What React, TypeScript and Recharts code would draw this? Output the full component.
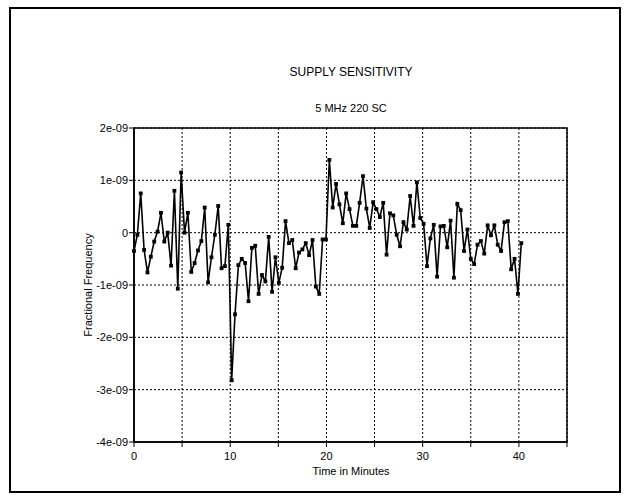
import React from 'react';
import { LineChart, Line, XAxis, YAxis, CartesianGrid, ReferenceArea, Customized } from 'recharts';

// Time in minutes for each sample
const timeMin = [
  0, 0.35, 0.7, 1.05, 1.4, 1.75, 2.1, 2.45, 2.8, 3.15, 3.5, 3.85, 4.2, 4.55, 4.9, 5.25, 5.6, 5.95, 6.3, 6.65,
  7, 7.35, 7.7, 8.05, 8.4, 8.75, 9.1, 9.45, 9.8, 10.15, 10.5, 10.85, 11.2, 11.55, 11.9, 12.25, 12.6, 12.95, 13.3, 13.65,
  14, 14.35, 14.7, 15.05, 15.4, 15.75, 16.1, 16.45, 16.8, 17.15, 17.5, 17.85, 18.2, 18.55, 18.9, 19.25, 19.6, 19.95, 20.3, 20.65,
  21, 21.35, 21.7, 22.05, 22.4, 22.75, 23.1, 23.45, 23.8, 24.15, 24.5, 24.85, 25.2, 25.55, 25.9, 26.25, 26.6, 26.95, 27.3, 27.65,
  28, 28.35, 28.7, 29.05, 29.4, 29.75, 30.1, 30.45, 30.8, 31.15, 31.5, 31.85, 32.2, 32.55, 32.9, 33.25, 33.6, 33.95, 34.3, 34.65,
  35, 35.35, 35.7, 36.05, 36.4, 36.75, 37.1, 37.45, 37.8, 38.15, 38.5, 38.85, 39.2, 39.55, 39.9, 40.25,
];

// Fractional frequency in units of 1e-09
const fracFreqE9 = [
  -0.35, -0.04, 0.75, -0.33, -0.76, -0.46, -0.17, 0.02, 0.38, -0.17, 0.0, -0.63, 0.8, -1.07, 1.15, 0.0, 0.38, -0.75, -0.58, -0.34,
  -0.16, 0.48, -0.95, -0.47, -0.04, 0.51, -0.68, -0.64, 0.15, -2.82, -1.56, -0.62, -0.5, -0.58, -1.31, -0.29, -0.25, -1.17, -0.81, -0.93,
  -0.08, -1.13, -0.47, -0.96, -0.67, 0.22, -0.2, -0.14, -0.68, -0.38, -0.32, -0.2, -0.43, -0.14, -1.03, -1.17, -0.13, -0.13, 1.39, 0.48,
  0.93, 0.54, 0.18, 0.75, 0.45, 0.13, 0.13, 0.57, 1.08, 0.46, 0.09, 0.58, 0.45, 0.3, 0.57, -0.42, 0.37, 0.33, -0.04, -0.26,
  0.2, 0.06, 0.7, 0.13, 0.96, 0.28, 0.17, -0.64, -0.11, 0.15, -0.84, 0.12, 0.13, -0.28, 0.23, -0.86, 0.55, 0.43, -0.35, 0.06,
  -0.5, -0.6, -0.23, -0.16, -0.4, 0.14, -0.05, 0.14, -0.23, -0.35, 0.2, 0.22, -0.7, -0.5, -1.17, -0.2,
];

const xTicks = [0, 5, 10, 15, 20, 25, 30, 35, 40, 45];
const xTickLabels = ['0', '', '10', '', '20', '', '30', '', '40', ''];
const yTicks = [-4, -3, -2, -1, 0, 1, 2];
const yTickLabels = ['-4e-09', '-3e-09', '-2e-09', '-1e-09', '0', '1e-09', '2e-09'];

const title = 'SUPPLY SENSITIVITY';
const subtitle = '5 MHz 220 SC';
const xLabel = 'Time in Minutes';
const yLabel = 'Fractional Frequency';

const data = timeMin.map((t, i) => ({ t, v: fracFreqE9[i] }));

const FONT = '"Liberation Sans", Arial, sans-serif';

const SquareDot = (props: any) => {
  const { cx, cy } = props;
  if (cx == null || cy == null) return null;
  return <rect x={cx - 1.9} y={cy - 1.9} width={3.8} height={3.8} fill="#000" />;
};

const Texts = () => (
  <g fontFamily={FONT} fill="#000">
    <text x={351} y={72} textAnchor="middle" fontSize={12} dominantBaseline="central">{title}</text>
    <text x={351} y={108} textAnchor="middle" fontSize={11} dominantBaseline="central">{subtitle}</text>
    <text x={351} y={471} textAnchor="middle" fontSize={11} dominantBaseline="central">{xLabel}</text>
    <text x={88} y={285} textAnchor="middle" fontSize={11} dominantBaseline="central" transform="rotate(-90 88 285)">{yLabel}</text>
  </g>
);

export default function App() {
  return (
    <div style={{ position: 'absolute', left: 0, top: 0, width: 628, height: 500, background: '#fff' }}>
      <div
        style={{
          position: 'absolute',
          left: 9,
          top: 7,
          width: 612,
          height: 486,
          border: '2px solid #000',
          boxSizing: 'border-box',
        }}
      />
      <div style={{ position: 'absolute', left: 0, top: 0 }}>
        <LineChart width={628} height={500} data={data} margin={{ top: 128, right: 61, bottom: 28, left: 0 }}>
          <CartesianGrid stroke="#000" strokeDasharray="2 2" strokeWidth={1} />
          <XAxis
            dataKey="t"
            type="number"
            domain={[0, 45]}
            ticks={xTicks}
            interval={0}
            height={30}
            tickSize={5}
            tickMargin={5}
            axisLine={{ stroke: '#000', strokeWidth: 1.5 }}
            tickLine={{ stroke: '#000', strokeWidth: 1 }}
            tick={{ fill: '#000', fontSize: 11, fontFamily: FONT }}
            tickFormatter={(v: number) => xTickLabels[xTicks.indexOf(v)] ?? ''}
          />
          <YAxis
            type="number"
            domain={[-4, 2]}
            ticks={yTicks}
            interval={0}
            width={134}
            tickSize={5}
            tickMargin={1}
            axisLine={{ stroke: '#000', strokeWidth: 1.5 }}
            tickLine={{ stroke: '#000', strokeWidth: 1 }}
            tick={{ fill: '#000', fontSize: 11, fontFamily: FONT }}
            tickFormatter={(v: number) => yTickLabels[yTicks.indexOf(v)] ?? ''}
          />
          <ReferenceArea x1={0} x2={45} y1={-4} y2={2} fill="none" stroke="#000" strokeWidth={1.5} ifOverflow="visible" />
          <Line
            type="linear"
            dataKey="v"
            stroke="#000"
            strokeWidth={1.6}
            dot={<SquareDot />}
            activeDot={false}
            isAnimationActive={false}
          />
          <Customized component={Texts} />
        </LineChart>
      </div>
    </div>
  );
}
